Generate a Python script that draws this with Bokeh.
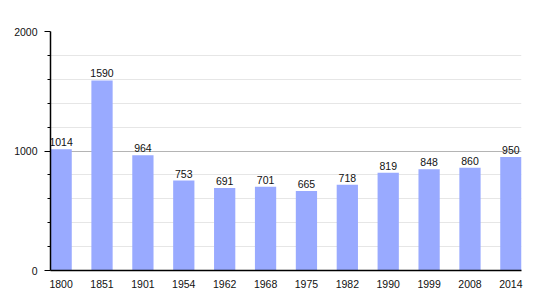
from bokeh.plotting import figure
from bokeh.models import ColumnDataSource, FixedTicker, Range1d, LabelSet
from bokeh.core.properties import value
from bokeh.embed import file_html
from bokeh.resources import INLINE

years = ["1800", "1851", "1901", "1954", "1962", "1968", "1975", "1982", "1990", "1999", "2008", "2014"]
population = [1014, 1590, 964, 753, 691, 701, 665, 718, 819, 848, 860, 950]
y_ticks = [0, 1000, 2000]
y_minor = [200, 400, 600, 800, 1200, 1400, 1600, 1800]

xs = list(range(len(years)))
src = ColumnDataSource(dict(x=xs, top=population, label=[str(v) for v in population]))

p = figure(width=550, height=300, output_backend="svg", toolbar_location=None,
           x_range=Range1d(-0.26, len(years) - 1 + 0.26), y_range=Range1d(0, 2000),
           min_border_left=50, min_border_right=29, min_border_top=31, min_border_bottom=30)
p.outline_line_color = None
p.background_fill_color = "white"
p.border_fill_color = "white"

p.vbar(x="x", top="top", width=0.52, source=src, fill_color="#99aaff", line_color=None)

labels = LabelSet(x="x", y="top", text="label", source=src, text_align="center",
                  text_baseline="bottom", y_offset=3, text_font_size=value("10.5px"),
                  text_font=value("Liberation Sans"), text_color="#111111")
p.add_layout(labels)

# x axis
p.xaxis.ticker = FixedTicker(ticks=xs)
p.xaxis.major_label_overrides = {i: y for i, y in enumerate(years)}
p.xaxis.major_tick_line_color = None
p.xaxis.minor_tick_line_color = None
p.xaxis.axis_line_color = "black"
p.xaxis.axis_line_width = 1.5
p.xaxis.major_label_standoff = 3
p.xaxis.major_label_text_font = "Liberation Sans"
p.xaxis.major_label_text_font_size = "10.5px"
p.xaxis.major_label_text_color = "#111111"
p.xgrid.grid_line_color = None

# y axis
p.yaxis.ticker = FixedTicker(ticks=y_ticks, minor_ticks=y_minor)
p.yaxis.axis_line_color = "black"
p.yaxis.axis_line_width = 1.5
p.yaxis.major_tick_out = 6
p.yaxis.major_tick_in = 0
p.yaxis.minor_tick_out = 3
p.yaxis.minor_tick_in = 0
p.yaxis.major_tick_line_color = "black"
p.yaxis.minor_tick_line_color = "black"
p.yaxis.major_label_standoff = 7
p.yaxis.major_label_text_font = "Liberation Sans"
p.yaxis.major_label_text_font_size = "10.5px"
p.yaxis.major_label_text_color = "#111111"
p.ygrid.grid_line_color = "#b4b4b4"
p.ygrid.minor_grid_line_color = "#e6e6e6"
p.ygrid.level = "underlay"

open("out.html", "w").write(file_html(p, INLINE))
